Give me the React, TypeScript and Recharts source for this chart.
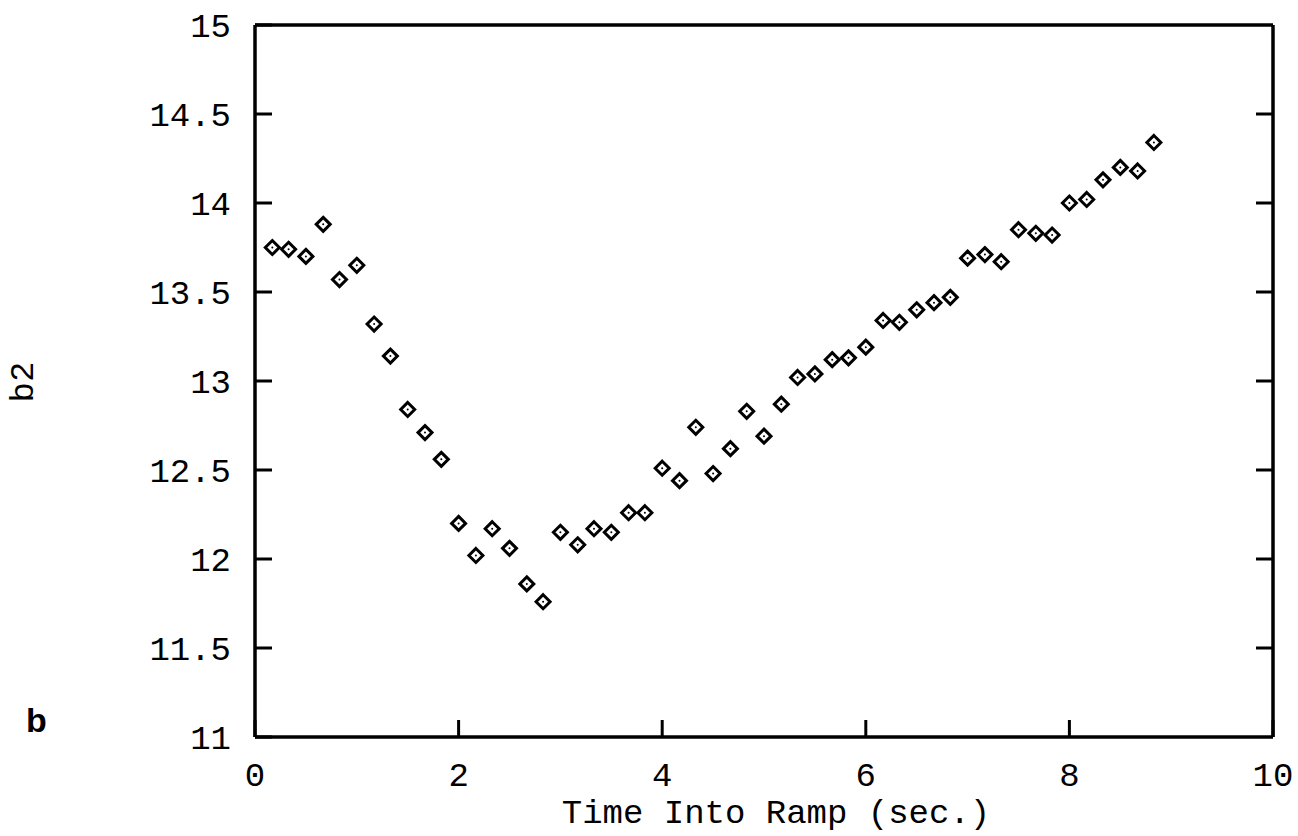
import React from 'react';
import { ScatterChart, Scatter, XAxis, YAxis } from 'recharts';

// time into ramp (sec.) and fitted b2 values
const times = [
  0.17, 0.33, 0.5, 0.67, 0.83, 1.0, 1.17, 1.33, 1.5, 1.67, 1.83, 2.0,
  2.17, 2.33, 2.5, 2.67, 2.83, 3.0, 3.17, 3.33, 3.5, 3.67, 3.83, 4.0,
  4.17, 4.33, 4.5, 4.67, 4.83, 5.0, 5.17, 5.33, 5.5, 5.67, 5.83, 6.0,
  6.17, 6.33, 6.5, 6.67, 6.83, 7.0, 7.17, 7.33, 7.5, 7.67, 7.83, 8.0,
  8.17, 8.33, 8.5, 8.67, 8.83,
];
const b2 = [
  13.75, 13.74, 13.7, 13.88, 13.57, 13.65, 13.32, 13.14, 12.84, 12.71, 12.56, 12.2,
  12.02, 12.17, 12.06, 11.86, 11.76, 12.15, 12.08, 12.17, 12.15, 12.26, 12.26, 12.51,
  12.44, 12.74, 12.48, 12.62, 12.83, 12.69, 12.87, 13.02, 13.04, 13.12, 13.13, 13.19,
  13.34, 13.33, 13.4, 13.44, 13.47, 13.69, 13.71, 13.67, 13.85, 13.83, 13.82, 14.0,
  14.02, 14.13, 14.2, 14.18, 14.34,
];
const xTicks = [0, 2, 4, 6, 8, 10];
const yTicks = [11, 11.5, 12, 12.5, 13, 13.5, 14, 14.5, 15];
const xInnerTicks = [2, 4, 6, 8];
const yInnerTicks = [11.5, 12, 12.5, 13, 13.5, 14, 14.5];

const data = times.map((t, i) => ({ t, b2: b2[i] }));

const MONO = "'Liberation Mono', 'DejaVu Sans Mono', monospace";
const FS = 34;
const TICK_LEN = 17;

const Diamond = (props: any) => {
  const { cx, cy } = props;
  const r = 7;
  return (
    <g>
      <path
        d={`M${cx},${cy - r} L${cx + r},${cy} L${cx},${cy + r} L${cx - r},${cy} Z`}
        fill="none"
        stroke="#000"
        strokeWidth={3}
      />
      <circle cx={cx} cy={cy} r={1} fill="#000" />
    </g>
  );
};

const renderLeftTick = (props: any) => {
  const { x, y, payload } = props;
  return (
    <g key={`l-${payload.value}`}>
      <line x1={x} y1={y} x2={x + TICK_LEN} y2={y} stroke="#000" strokeWidth={3} />
      <text x={x - 24} y={y} dy="0.34em" textAnchor="end" style={{ fontFamily: MONO, fontSize: FS }} fill="#000">
        {String(payload.value)}
      </text>
    </g>
  );
};

const renderBottomTick = (props: any) => {
  const { x, y, payload } = props;
  return (
    <g key={`b-${payload.value}`}>
      <line x1={x} y1={y} x2={x} y2={y - TICK_LEN} stroke="#000" strokeWidth={3} />
      <text x={x} y={y + 49} textAnchor="middle" style={{ fontFamily: MONO, fontSize: FS }} fill="#000">
        {String(payload.value)}
      </text>
    </g>
  );
};

const renderTopTick = (props: any) => {
  const { x, y, payload } = props;
  return <line key={`t-${payload.value}`} x1={x} y1={y} x2={x} y2={y + TICK_LEN} stroke="#000" strokeWidth={3} />;
};

const renderRightTick = (props: any) => {
  const { x, y, payload } = props;
  return <line key={`r-${payload.value}`} x1={x} y1={y} x2={x - TICK_LEN} y2={y} stroke="#000" strokeWidth={3} />;
};

export default function App() {
  const axisLine = { stroke: '#000', strokeWidth: 3.5 };
  return (
    <div style={{ position: 'absolute', left: 0, top: 0, width: 1298, height: 836, background: '#fff' }}>
      <ScatterChart width={1298} height={836} margin={{ top: 24, right: 24, bottom: 0, left: 0 }}>
        <XAxis
          xAxisId="bottom"
          dataKey="t"
          type="number"
          domain={[0, 10]}
          ticks={xTicks}
          height={99}
          tickSize={0}
          tickMargin={0}
          tickLine={false}
          axisLine={axisLine}
          tick={renderBottomTick}
          interval={0}
        />
        <XAxis
          xAxisId="top"
          orientation="top"
          type="number"
          domain={[0, 10]}
          allowDataOverflow
          ticks={xInnerTicks}
          height={1}
          tickSize={0}
          tickMargin={0}
          tickLine={false}
          axisLine={axisLine}
          tick={renderTopTick}
          interval={0}
        />
        <YAxis
          yAxisId="left"
          dataKey="b2"
          type="number"
          domain={[11, 15]}
          ticks={yTicks}
          width={255}
          tickSize={0}
          tickMargin={0}
          tickLine={false}
          axisLine={axisLine}
          tick={renderLeftTick}
          interval={0}
        />
        <YAxis
          yAxisId="right"
          orientation="right"
          type="number"
          domain={[11, 15]}
          allowDataOverflow
          ticks={yInnerTicks}
          width={1}
          tickSize={0}
          tickMargin={0}
          tickLine={false}
          axisLine={axisLine}
          tick={renderRightTick}
          interval={0}
        />
        <Scatter
          data={data}
          xAxisId="bottom"
          yAxisId="left"
          shape={Diamond}
          isAnimationActive={false}
        />
      </ScatterChart>
      <div
        style={{
          position: 'absolute',
          left: 776,
          top: 801,
          transform: 'translateX(-50%)',
          fontFamily: MONO,
          fontSize: FS,
          lineHeight: '26px',
          whiteSpace: 'nowrap',
        }}
      >
        Time Into Ramp (sec.)
      </div>
      <div
        style={{
          position: 'absolute',
          left: 24,
          top: 382,
          transform: 'translate(-50%, -50%) rotate(-90deg)',
          fontFamily: MONO,
          fontSize: FS,
          lineHeight: '34px',
          whiteSpace: 'nowrap',
        }}
      >
        b2
      </div>
      <div
        style={{
          position: 'absolute',
          left: 26,
          top: 700,
          fontFamily: "'Liberation Sans', Arial, sans-serif",
          fontWeight: 'bold',
          fontSize: 34,
          lineHeight: '40px',
        }}
      >
        b
      </div>
    </div>
  );
}
